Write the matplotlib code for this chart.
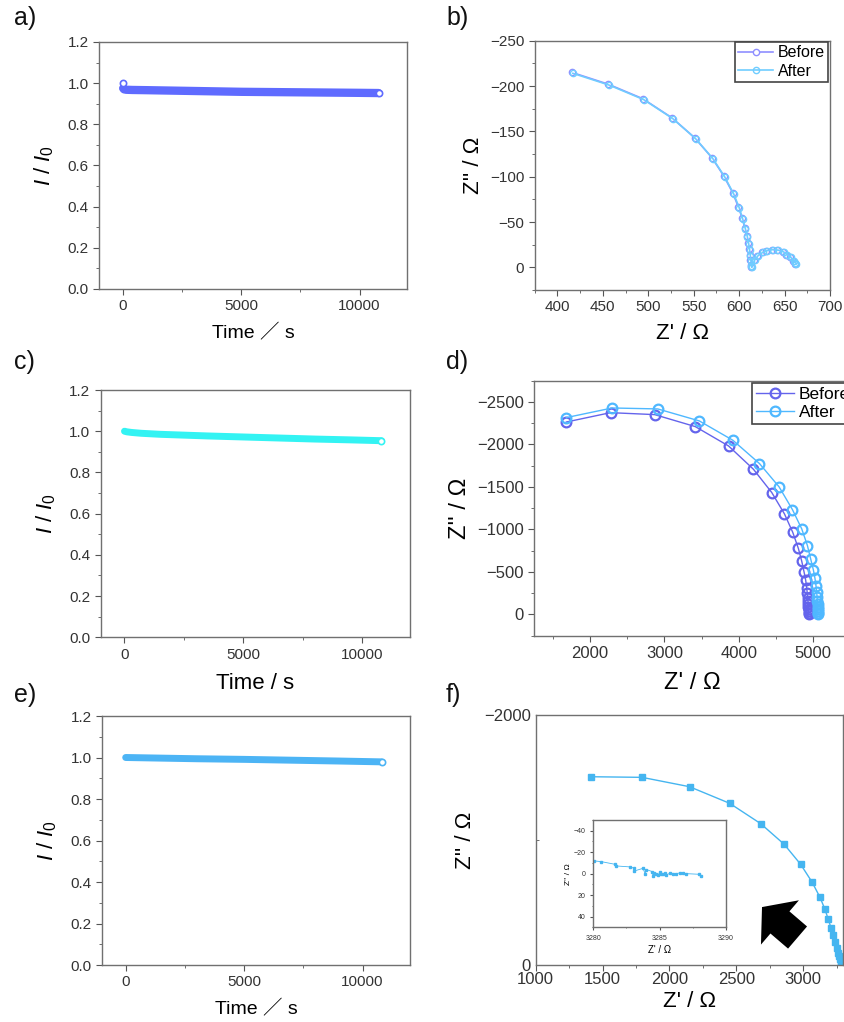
import matplotlib
matplotlib.use('agg')
import matplotlib.pyplot as plt
from matplotlib.ticker import MultipleLocator, FixedLocator

plt.rcParams['font.family'] = ['Liberation Sans', 'Noto Sans CJK JP', 'DejaVu Sans']
plt.rcParams['mathtext.fontset'] = 'custom'
plt.rcParams['mathtext.rm'] = 'Liberation Sans'
plt.rcParams['mathtext.it'] = 'Liberation Sans:italic'

# ---- chronoamperometry (I / I0 vs time) ----
time_a = [0, 20, 60, 150, 400, 1000, 2000, 3000, 4000, 5000, 6000, 7000, 8000, 9000, 10000, 10800]
ratio_a = [1.000, 0.975, 0.970, 0.968, 0.967, 0.966, 0.964, 0.962, 0.960, 0.958, 0.957, 0.956, 0.955, 0.954, 0.953, 0.952]

time_c = [0, 100, 300, 700, 1500, 2500, 3500, 5000, 6500, 8000, 9500, 10800]
ratio_c = [1.000, 0.997, 0.994, 0.990, 0.985, 0.981, 0.977, 0.972, 0.967, 0.962, 0.958, 0.954]

time_e = [0, 500, 1500, 3000, 5000, 7000, 9000, 10800]
ratio_e = [1.000, 0.999, 0.997, 0.994, 0.991, 0.987, 0.983, 0.979]

# ---- impedance, panel b ----
zre_b_before = [416, 456, 494, 526, 551, 570, 583, 593, 599, 603.5, 606.4, 608.6, 610, 611.2, 612, 612.5, 613, 613.4,
                616, 620, 625, 630, 636, 642, 648, 652, 656, 659, 661, 662]
zim_b_before = [-215, -202, -186, -165, -143, -121, -101, -82, -67, -54, -43, -34.5, -27, -20, -13.5, -8, -2.5, 0,
                 -8, -13, -16.5, -18.5, -19.5, -19, -17, -14, -11, -7, -5, -4]
zre_b_after = [417, 457, 495, 527, 552, 571, 584, 594, 600, 604, 607, 609, 610.5, 611.5, 612.3, 613, 613.5, 614,
               617, 621, 626, 631, 637, 643, 649, 653, 657, 660, 662, 663]
zim_b_after = [-214, -201, -185, -164, -142, -120, -100, -81, -66, -53, -42, -34, -26, -19.5, -13, -7.5, -2, 0,
                -8, -13, -16.5, -18.5, -19.5, -19, -17, -14, -11, -7, -5, -4]

# ---- impedance, panel d ----
zre_d_before = [1684, 2277, 2870, 3415, 3862, 4196, 4442, 4612, 4723, 4799, 4844, 4875, 4897, 4910, 4919,
                4924, 4928, 4931, 4933, 4935, 4936, 4937, 4938]
zim_d_before = [-2264, -2374, -2351, -2210, -1982, -1708, -1434, -1183, -967, -776, -627, -501, -403, -317, -247,
                -195, -155, -120, -90, -62, -40, -20, 0]
zre_d_after = [1684, 2299, 2911, 3469, 3920, 4277, 4540, 4719, 4844, 4920, 4965, 5000, 5022, 5036, 5045,
               5050, 5054, 5057, 5059, 5061, 5062, 5063, 5064]
zim_d_after = [-2316, -2429, -2418, -2277, -2049, -1775, -1501, -1234, -1007, -811, -650, -525, -423, -333, -262,
               -205, -160, -122, -92, -64, -41, -20, 0]

# ---- impedance, panel f ----
zre_f = [1412, 1795, 2150, 2450, 2682, 2857, 2980, 3067, 3125, 3162, 3187, 3207, 3225, 3237, 3250, 3260,
         3268, 3275, 3280, 3284, 3286]
zim_f = [-1508, -1503, -1428, -1295, -1132, -967, -807, -662, -542, -446, -366, -299, -240, -187, -140, -100,
         -70, -45, -25, -10, 0]

# inset of f (high-frequency end)
zre_inset = [3280.05, 3280.6, 3281.6, 3281.7, 3282.75, 3283.1, 3283.1, 3283.75, 3283.9, 3284.0, 3284.45, 3284.5,
             3284.6, 3284.75, 3284.9, 3285.0, 3285.1, 3285.25, 3285.4, 3285.5, 3285.75, 3286.0, 3286.25, 3286.5,
             3286.75, 3287.0, 3288.0, 3288.1]
zim_inset = [-11.9, -11.2, -8.8, -7.2, -6.3, -5.0, -2.5, -5.0, 0.0, -3.8, -1.9, 2.2,
             -0.9, 0.6, 1.6, -1.6, 0.0, 0.6, -0.6, 1.3, -0.3, 0.3, 0.0, -0.6,
             -0.3, 0.0, 0.6, 2.2]

c_a = '#5f6bff'
c_c = '#33f3f3'
c_e = '#4cb4f5'
c_before_b = '#8f8fff'
c_after_b = '#70cdff'
c_before_d = '#6464ec'
c_after_d = '#4fb8ff'
c_f = '#45b5f0'

W, H = 845, 1022
fig = plt.figure(figsize=(W / 100, H / 100), dpi=100)


def box(left, top, right, bottom):
    return [left / W, 1 - bottom / H, (right - left) / W, (bottom - top) / H]


def style(ax, size=11):
    for s in ax.spines.values():
        s.set_color('#707070')
        s.set_linewidth(1.0)
    ax.tick_params(which='both', direction='out', colors='#555555', labelcolor='#333333',
                   labelsize=size, top=False, right=False)
    ax.tick_params(which='major', length=4)
    ax.tick_params(which='minor', length=2)


def ca_panel(rect, t, r, color, lw, xlab, labsize, start_marker=False):
    ax = fig.add_axes(rect)
    first = 1 if start_marker else 0
    ax.plot(t[first:], r[first:], color=color, lw=lw, solid_capstyle='round', zorder=2)
    if start_marker:
        ax.plot([t[0]], [r[0]], 'o', ms=4.5, mfc='white', mec=color, mew=1.2, zorder=3)
    ax.plot([t[-1]], [r[-1]], 'o', ms=4.5, mfc='white', mec=color, mew=1.2, zorder=3)
    ax.set_xlim(-1000, 12000)
    ax.set_ylim(0, 1.2)
    ax.xaxis.set_major_locator(MultipleLocator(5000))
    ax.xaxis.set_minor_locator(MultipleLocator(2500))
    ax.yaxis.set_major_locator(MultipleLocator(0.2))
    ax.yaxis.set_minor_locator(MultipleLocator(0.1))
    ax.yaxis.set_major_formatter(matplotlib.ticker.FormatStrFormatter('%.1f'))
    style(ax)
    ax.set_xlabel(xlab, fontsize=labsize, labelpad=8)
    ax.set_ylabel(r'$I$ / $I_{\mathit{0}}$', fontsize=16, labelpad=8)
    return ax


ca_panel(box(99, 42, 407, 289), time_a, ratio_a, c_a, 6, 'Time \uff0f s', 14, start_marker=True)
ca_panel(box(100.7, 390, 410, 637.3), time_c, ratio_c, c_c, 5, 'Time / s', 16)
ca_panel(box(102, 716, 410, 965), time_e, ratio_e, c_e, 5, 'Time \uff0f s', 14)

# panel b
axb = fig.add_axes(box(534.7, 40.7, 830, 290))
axb.plot(zre_b_before, zim_b_before, '-o', color=c_before_b, lw=1.2, ms=4.5, mfc='white', mec=c_before_b,
         mew=1.0, label='Before')
axb.plot(zre_b_after, zim_b_after, '-o', color=c_after_b, lw=1.2, ms=4.5, mfc='none', mec=c_after_b,
         mew=1.0, label='After')
axb.set_xlim(375, 700)
axb.set_ylim(25, -250)
axb.xaxis.set_major_locator(MultipleLocator(50))
axb.xaxis.set_minor_locator(MultipleLocator(25))
axb.yaxis.set_major_locator(MultipleLocator(50))
axb.yaxis.set_minor_locator(MultipleLocator(25))
style(axb)
axb.set_xlabel("Z' / \u03a9", fontsize=16, labelpad=6)
axb.set_ylabel("Z'' / \u03a9", fontsize=16, labelpad=4)
lg = axb.legend(loc='upper right', fontsize=11.5, fancybox=False, edgecolor='#444444', framealpha=1,
                handlelength=2.2, borderaxespad=0.1, borderpad=0.2, labelspacing=0.2, handletextpad=0.3)
lg.get_frame().set_linewidth(1.2)

# panel d
axd = fig.add_axes(box(534, 380.7, 850.6, 635.7))
axd.plot(zre_d_before, zim_d_before, '-o', color=c_before_d, lw=1.0, ms=7, mfc='none', mec=c_before_d,
         mew=1.6, label='Before')
axd.plot(zre_d_after, zim_d_after, '-o', color=c_after_d, lw=1.0, ms=7, mfc='none', mec=c_after_d,
         mew=1.6, label='After')
axd.set_xlim(1250, 5500)
axd.set_ylim(250, -2750)
axd.xaxis.set_major_locator(MultipleLocator(1000))
axd.xaxis.set_minor_locator(MultipleLocator(500))
axd.yaxis.set_major_locator(MultipleLocator(500))
axd.yaxis.set_minor_locator(MultipleLocator(250))
style(axd, 12)
axd.set_xlabel("Z' / \u03a9", fontsize=17, labelpad=8)
axd.set_ylabel("Z'' / \u03a9", fontsize=17, labelpad=4)
lg = axd.legend(loc='upper left', bbox_to_anchor=(0.689, 0.99), fontsize=12.5, fancybox=False,
                edgecolor='#444444', framealpha=1, handlelength=2.2, borderaxespad=0, borderpad=0.2,
                labelspacing=0.2, handletextpad=0.3)
lg.get_frame().set_linewidth(1.2)

# panel f
axf = fig.add_axes(box(535.7, 715.3, 843.4, 965))
axf.plot(zre_f, zim_f, '-s', color=c_f, lw=1.0, ms=4.5, mfc=c_f, mec=c_f)
axf.set_xlim(1000, 3300)
axf.set_ylim(0, -2000)
axf.xaxis.set_major_locator(MultipleLocator(500))
axf.xaxis.set_minor_locator(MultipleLocator(250))
axf.yaxis.set_major_locator(FixedLocator([0, -2000]))
axf.yaxis.set_minor_locator(FixedLocator([-1000]))
style(axf)
axf.tick_params(axis='x', labelsize=12, pad=1)
axf.tick_params(axis='y', which='major', length=0, labelsize=12)
axf.tick_params(axis='y', which='minor', length=2, direction='in')
axf.set_xlabel("Z' / \u03a9", fontsize=16, labelpad=3)
axf.set_ylabel("Z'' / \u03a9", fontsize=16, labelpad=6)
axf.annotate('', xy=(0.7355, 0.232), xytext=(0.851, 0.110), xycoords='axes fraction',
             arrowprops=dict(arrowstyle='simple,head_length=0.85,head_width=2.1,tail_width=1.05',
                             fc='black', ec='black', lw=0, shrinkA=0, shrinkB=0, mutation_scale=20))

axi = fig.add_axes(box(593.3, 820, 726, 927.3))
axi.plot(zre_inset, zim_inset, '-s', color=c_f, lw=0.6, ms=1.8, mfc=c_f, mec=c_f)
axi.set_xlim(3280, 3290)
axi.set_ylim(50, -50)
axi.xaxis.set_major_locator(MultipleLocator(5))
axi.xaxis.set_minor_locator(MultipleLocator(2.5))
axi.yaxis.set_major_locator(MultipleLocator(20))
axi.yaxis.set_minor_locator(MultipleLocator(10))
style(axi, 5)
axi.tick_params(which='major', length=2)
axi.tick_params(which='minor', length=1)
axi.set_xlabel("Z' / \u03a9", fontsize=7, labelpad=2)
axi.set_ylabel("Z'' / \u03a9", fontsize=6, labelpad=1)

# panel letters
for txt, x, y in [('a)', 14, 6), ('b)', 446, 6), ('c)', 14, 350), ('d)', 446, 350),
                  ('e)', 14, 683), ('f)', 446, 683)]:
    fig.text(x / W, 1 - y / H, txt, fontsize=18, va='top', ha='left', color='#111111')

fig.savefig('out.png', dpi=100)
